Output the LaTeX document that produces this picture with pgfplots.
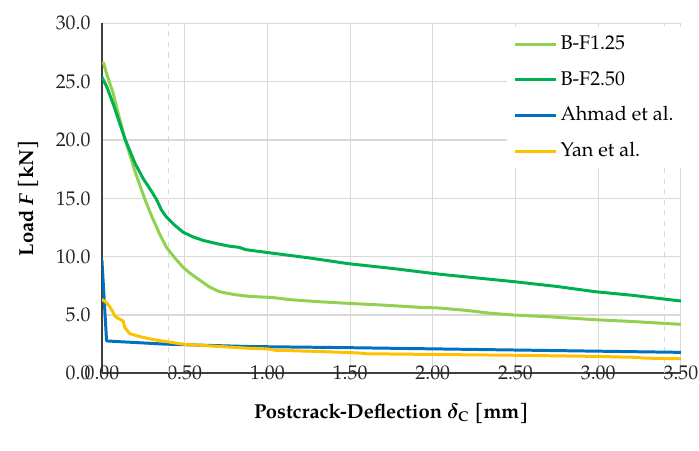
\documentclass[border=0pt]{standalone}
\usepackage{pgfplots}
\pgfplotsset{compat=1.18}
\usepackage{fontspec}
\setmainfont{TeX Gyre Pagella}
\definecolor{lgreen}{HTML}{92D050}
\definecolor{dgreen}{HTML}{00B050}
\definecolor{mblue}{HTML}{0070C0}
\definecolor{gold}{HTML}{FFC000}
\definecolor{gridc}{HTML}{D9D9D9}
\definecolor{axc}{HTML}{404040}
\begin{document}
\begin{tikzpicture}
\begin{axis}[
  scale only axis,
  width=330pt, height=199.5pt,
  xmin=0, xmax=3.5, ymin=0, ymax=30,
  xtick={0,0.5,1,1.5,2,2.5,3,3.5}, ytick={0,5,10,15,20,25,30},
  xticklabels={0.00,0.50,1.00,1.50,2.00,2.50,3.00,3.50},
  yticklabels={0.0,5.0,10.0,15.0,20.0,25.0,30.0},
  major tick length=0pt,
  xmajorgrids, ymajorgrids,
  major grid style={gridc, line width=0.6pt},
  axis x line*=bottom, axis y line*=left,
  axis line style={axc, line width=1pt, -},
  extra x ticks={0.4,3.4},
  extra x tick labels={},
  extra x tick style={grid=major, major grid style={gridc, dashed, line width=0.6pt}},
  tick label style={font=\fontsize{11.3}{13}\selectfont, text=black!85},
  xticklabel style={anchor=north, yshift=8pt},
  yticklabel shift=3pt,
  xlabel={\textbf{Postcrack-Deflection} {\boldmath$\delta_{\mathrm{C}}$} \textbf{[mm]}},
  ylabel={\textbf{Load \textit{F} [kN]}},
  label style={font=\fontsize{11.5}{13}\selectfont},
  xlabel style={at={(axis description cs:0.5,-0.115)}, anchor=center},
  ylabel style={at={(axis description cs:-0.1273,0.5)}, anchor=center},
  legend style={at={(1.006,0.99)}, anchor=north east, fill=white, draw=none,
    font=\fontsize{11.3}{13}\selectfont, inner xsep=4pt, inner ysep=3pt, row sep=6.8pt},
  legend cell align=left,
  legend image code/.code={\draw[mark repeat=2,mark phase=2,#1] plot coordinates {(0pt,0pt) (11.5pt,0pt) (23pt,0pt)};},
  every axis plot/.append style={line width=1.7pt, line join=round},
]
\addplot[lgreen] coordinates {
(0,26.6) (0.01,26.6) (0.028,25.7) (0.068,24.0) (0.1,22.2) (0.139,20.1) (0.2,17.3)
(0.26,14.9) (0.3,13.5) (0.35,11.9) (0.39,10.8) (0.44,9.9) (0.49,9.1) (0.54,8.5)
(0.59,8.0) (0.65,7.4) (0.71,7.0) (0.8,6.75) (0.89,6.6) (1.03,6.5) (1.15,6.3)
(1.3,6.15) (1.49,6.0) (1.7,5.85) (1.92,5.66) (2.04,5.6) (2.2,5.4) (2.35,5.15)
(2.49,5.0) (2.7,4.85) (2.98,4.6) (3.2,4.45) (3.5,4.2)};
\addlegendentry{B-F1.25}
\addplot[dgreen] coordinates {
(0,25.4) (0.028,24.6) (0.068,23.1) (0.139,20.1) (0.2,18.0) (0.249,16.7) (0.3,15.6)
(0.33,14.9) (0.36,14.0) (0.39,13.4) (0.44,12.7) (0.49,12.1) (0.55,11.7) (0.61,11.4)
(0.7,11.1) (0.77,10.9) (0.83,10.8) (0.87,10.6) (0.95,10.45) (1.03,10.3) (1.25,9.9)
(1.49,9.4) (1.75,9.0) (2.04,8.5) (2.25,8.2) (2.49,7.86) (2.75,7.45) (2.98,7.0)
(3.2,6.7) (3.5,6.2)};
\addlegendentry{B-F2.50}
\addplot[mblue] coordinates {
(0,9.7) (0.028,2.78) (0.1,2.72) (0.39,2.5) (0.89,2.3) (1.5,2.2) (2.0,2.1)
(2.5,2.0) (3.0,1.9) (3.5,1.8)};
\addlegendentry{Ahmad et al.}
\addplot[gold] coordinates {
(0,6.35) (0.025,6.1) (0.048,5.7) (0.065,5.3) (0.078,4.9) (0.1,4.7) (0.128,4.5)
(0.139,3.9) (0.169,3.4) (0.23,3.15) (0.309,2.9) (0.4,2.7) (0.49,2.5) (0.6,2.4)
(0.89,2.15) (1.0,2.1) (1.05,1.98) (1.3,1.88) (1.55,1.75) (1.6,1.68) (2.0,1.62)
(2.5,1.55) (3.0,1.45) (3.2,1.38) (3.3,1.3) (3.5,1.25)};
\addlegendentry{Yan et al.}
\end{axis}
\pgfresetboundingbox
\path (current axis.south west) ++(-58.1pt,-43.7pt) rectangle ++(398.4pt,256.5pt);
\end{tikzpicture}
\end{document}
